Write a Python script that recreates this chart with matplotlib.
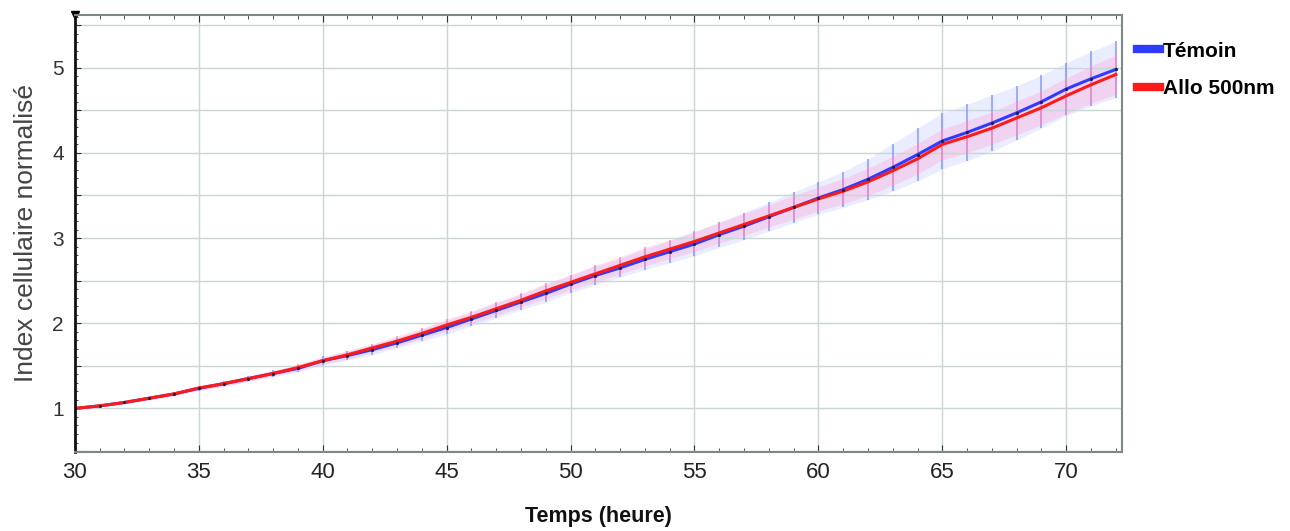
import matplotlib
matplotlib.use("Agg")
import matplotlib.pyplot as plt
from matplotlib.ticker import MultipleLocator, FuncFormatter

# temps (heure), une mesure par heure
temps = list(range(30, 73))

temoin = [1.00, 1.03, 1.07, 1.12, 1.17, 1.235, 1.29, 1.35, 1.41, 1.47,
          1.56, 1.62, 1.69, 1.77, 1.86, 1.95, 2.05, 2.15, 2.25, 2.35,
          2.46, 2.56, 2.65, 2.75, 2.84, 2.93, 3.04, 3.14, 3.25, 3.36,
          3.47, 3.57, 3.69, 3.83, 3.98, 4.14, 4.24, 4.35, 4.47, 4.60,
          4.75, 4.87, 4.98]
temoin_err = [0.01, 0.01, 0.02, 0.02, 0.02, 0.03, 0.03, 0.03, 0.04, 0.04,
              0.05, 0.05, 0.06, 0.06, 0.07, 0.08, 0.08, 0.09, 0.09, 0.10,
              0.10, 0.11, 0.11, 0.12, 0.13, 0.14, 0.15, 0.16, 0.17, 0.18,
              0.19, 0.21, 0.24, 0.28, 0.31, 0.33, 0.33, 0.33, 0.32, 0.31,
              0.31, 0.32, 0.33]

allo = [1.00, 1.03, 1.07, 1.12, 1.17, 1.24, 1.29, 1.35, 1.41, 1.48,
        1.56, 1.63, 1.71, 1.79, 1.88, 1.98, 2.07, 2.17, 2.27, 2.38,
        2.48, 2.58, 2.68, 2.78, 2.87, 2.96, 3.06, 3.16, 3.26, 3.36,
        3.46, 3.55, 3.66, 3.79, 3.93, 4.10, 4.19, 4.29, 4.41, 4.53,
        4.67, 4.80, 4.92]
allo_err = [0.01, 0.01, 0.01, 0.02, 0.02, 0.02, 0.03, 0.03, 0.03, 0.04,
            0.04, 0.05, 0.05, 0.06, 0.06, 0.07, 0.07, 0.08, 0.08, 0.09,
            0.09, 0.10, 0.10, 0.11, 0.11, 0.12, 0.12, 0.13, 0.13, 0.14,
            0.14, 0.15, 0.16, 0.17, 0.18, 0.18, 0.19, 0.19, 0.20, 0.20,
            0.21, 0.22, 0.23]

blue = "#2f3cff"
red = "#ff1a1a"

plt.rcParams['font.family'] = ['Liberation Sans', 'DejaVu Sans']

fig = plt.figure(figsize=(12.9, 5.31), dpi=100)
ax = fig.add_axes([0.058, 0.149, 0.812, 0.823])

# bandes d'erreur (traits verticaux + fond clair)
ax.fill_between(temps, [m - e for m, e in zip(temoin, temoin_err)],
                [m + e for m, e in zip(temoin, temoin_err)],
                color="#9aa8ff", alpha=0.2, lw=0)
ax.fill_between(temps, [m - e for m, e in zip(allo, allo_err)],
                [m + e for m, e in zip(allo, allo_err)],
                color="#ff9ad0", alpha=0.3, lw=0)
ax.errorbar(temps, temoin, yerr=temoin_err, fmt="none", ecolor="#8090ff",
            elinewidth=1.2, alpha=0.85)
ax.errorbar(temps, allo, yerr=allo_err, fmt="none", ecolor="#ff88c0",
            elinewidth=1.2, alpha=0.85)

ax.plot(temps, temoin, color=blue, lw=2.2, label="Témoin")
ax.plot(temps, allo, color=red, lw=2.2, label="Allo 500nm")
ax.plot(temps, temoin, ls="none", marker=".", ms=2.5, color="#202040")

ax.set_xlim(30, 72.26)
ax.set_ylim(0.49, 5.62)
ax.xaxis.set_major_locator(MultipleLocator(5))
ax.xaxis.set_minor_locator(MultipleLocator(1))
ax.yaxis.set_major_locator(MultipleLocator(0.5))
ax.yaxis.set_minor_locator(MultipleLocator(0.1))
ax.yaxis.set_major_formatter(FuncFormatter(lambda v, p: "%d" % v if abs(v - round(v)) < 1e-6 else ""))

ax.grid(True, which="major", color="#c9d6d6", lw=1)
ax.tick_params(axis="both", which="both", direction="in", top=True, colors="#333333")
ax.tick_params(axis="x", which="major", length=5, labelsize=16, pad=7, labelcolor="#222222")
ax.tick_params(axis="x", which="minor", length=3)
ax.tick_params(axis="y", which="major", length=4, labelsize=15, pad=8, labelcolor="#333333")
ax.tick_params(axis="y", which="minor", length=2)

for s in ["top", "right", "bottom"]:
    ax.spines[s].set_color("#7a8a8a")
    ax.spines[s].set_linewidth(1.5)
ax.spines["left"].set_color("#111111")
ax.spines["left"].set_linewidth(2)

ax.plot([0], [1], marker="v", color="black", ms=6, transform=ax.transAxes, clip_on=False)

ax.set_ylabel("Index cellulaire normalisé", fontsize=19, color="#444444", labelpad=10)
ax.set_xlabel("Temps (heure)", fontsize=15.5, fontweight="bold",
              labelpad=17, color="#111111")

leg = ax.legend(loc="upper left", bbox_to_anchor=(1.0, 0.972), frameon=False,
                handlelength=1.1, handletextpad=0.15, labelspacing=0.9,
                prop={"size": 15, "weight": "bold"}, borderaxespad=0.3)
for h in leg.get_lines():
    h.set_linewidth(6)

fig.savefig("out.png", dpi=100)
